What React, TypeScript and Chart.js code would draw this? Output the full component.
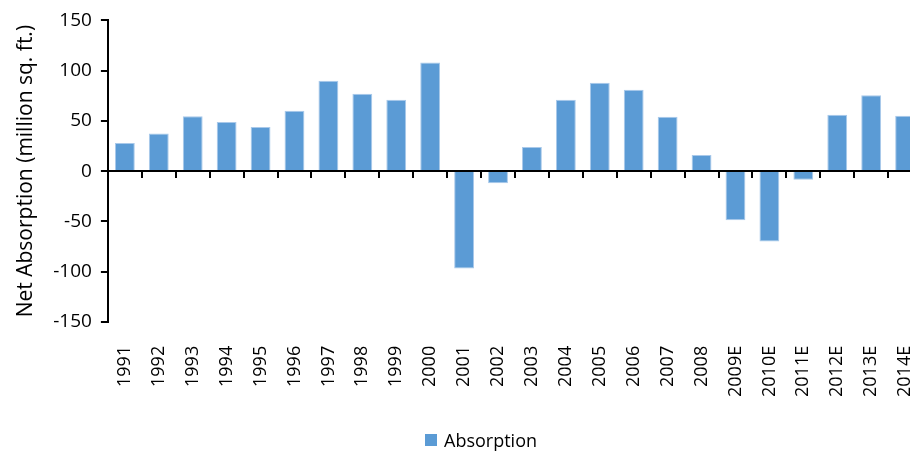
import React, { useEffect, useRef } from "react";
import { Chart, registerables } from "chart.js";

Chart.register(...registerables);

const categories = [
  "1991", "1992", "1993", "1994", "1995", "1996", "1997", "1998", "1999", "2000",
  "2001", "2002", "2003", "2004", "2005", "2006", "2007", "2008",
  "2009E", "2010E", "2011E", "2012E", "2013E", "2014E",
];
const absorption = [
  28, 37.5, 54.5, 49, 44, 60, 90, 77, 71, 108,
  -97, -12, 24, 71, 88, 81, 54, 16,
  -49, -70, -8.5, 56, 75.5, 55,
];
const yTicks = { min: -150, max: 150, step: 50 };
const seriesName = "Absorption";
const yTitle = "Net Absorption (million sq. ft.)";

const FONT = "'Open Sans', 'Noto Sans', sans-serif";
const BAR = "#5B9BD5";

export default function App() {
  const ref = useRef<HTMLCanvasElement | null>(null);
  useEffect(() => {
    if (!ref.current) return;
    const chart = new Chart(ref.current, {
      type: "bar",
      data: {
        labels: categories,
        datasets: [
          {
            label: seriesName,
            data: absorption,
            backgroundColor: BAR,
            borderColor: "#A9C9EA",
            borderWidth: 1,
            barPercentage: 0.585,
            categoryPercentage: 1,
          },
        ],
      },
      options: {
        animation: false,
        responsive: false,
        maintainAspectRatio: false,
        layout: { padding: { left: 13, right: 15, top: 14, bottom: 38 } },
        plugins: { legend: { display: false }, tooltip: { enabled: false } },
        scales: {
          x: {
            type: "category",
            position: "bottom",
            offset: true,
            grid: { display: false },
            border: { display: false },
            ticks: {
              maxRotation: 90,
              minRotation: 90,
              padding: 16,
              autoSkip: false,
              color: "#000",
              font: { family: FONT, size: 18 },
            },
          },
          x2: {
            type: "category",
            position: { y: 0 } as any,
            offset: true,
            z: 1,
            grid: {
              offset: true,
              drawOnChartArea: false,
              drawTicks: true,
              tickLength: 6,
              color: "#000",
              lineWidth: 2,
            },
            border: { display: true, color: "#000", width: 2 },
            ticks: { display: false },
          },
          y: {
            min: yTicks.min,
            max: yTicks.max,
            grid: {
              drawOnChartArea: false,
              drawTicks: true,
              tickLength: 7,
              color: "#000",
              lineWidth: 2,
            },
            border: { display: true, color: "#000", width: 2 },
            ticks: {
              stepSize: yTicks.step,
              padding: 9,
              color: "#000",
              font: { family: FONT, size: 19 },
            },
            title: {
              display: true,
              text: yTitle,
              color: "#000",
              padding: { top: 0, bottom: 6 },
              font: { family: FONT, size: 21 },
            },
          },
        },
      },
    });
    return () => chart.destroy();
  }, []);

  return (
    <div style={{ position: "absolute", left: 0, top: 0, width: 943, height: 451, background: "#fff" }}>
      <canvas ref={ref} width={943} height={451} style={{ display: "block" }} />
      <div
        style={{
          position: "absolute",
          left: 425,
          top: 428,
          display: "flex",
          alignItems: "center",
          fontFamily: FONT,
          fontSize: 18,
          color: "#000",
          whiteSpace: "nowrap",
        }}
      >
        <span style={{ display: "inline-block", width: 12, height: 12, background: BAR, marginRight: 7 }} />
        <span>{seriesName}</span>
      </div>
    </div>
  );
}
